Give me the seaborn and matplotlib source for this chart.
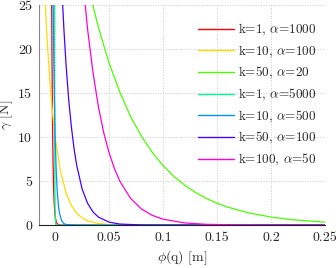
import numpy as np
import pandas as pd
import matplotlib
matplotlib.use("Agg")
import matplotlib.pyplot as plt
import matplotlib.colors as mcolors
import seaborn as sns

# parameter pairs shown in the legend
k_vals = [1, 10, 50, 1, 10, 50, 100]
alpha_vals = [1000, 100, 20, 5000, 500, 100, 50]

# curves: phi [m] and gamma [N]
phi_red = [-0.0035, -0.003, -0.0025, -0.002, -0.0015, -0.001, -0.0005, 0.0, 0.001, 0.002, 0.004, 0.01, 0.25]
gam_red = [33.1, 20.1, 12.2, 7.39, 4.48, 2.72, 1.65, 1.0, 0.37, 0.14, 0.02, 0.0, 0.0]

phi_yel = [-0.01, -0.0075, -0.005, -0.0025, 0.0, 0.005, 0.01, 0.015, 0.02, 0.025, 0.03, 0.04, 0.05, 0.06, 0.08, 0.1, 0.25]
gam_yel = [27.2, 21.2, 16.5, 12.8, 10.0, 6.07, 3.68, 2.23, 1.35, 0.82, 0.50, 0.18, 0.07, 0.025, 0.003, 0.0, 0.0]

phi_grn = [0.03, 0.04, 0.05, 0.06, 0.07, 0.08, 0.09, 0.1, 0.11, 0.12, 0.13, 0.14, 0.15, 0.16, 0.18, 0.2, 0.22, 0.25]
gam_grn = [27.4, 22.5, 18.4, 15.1, 12.3, 10.1, 8.26, 6.77, 5.54, 4.54, 3.71, 3.04, 2.49, 2.04, 1.37, 0.92, 0.61, 0.34]

phi_teal = [-0.0007, -0.0006, -0.0005, -0.0004, -0.0003, -0.0002, 0.0, 0.0005, 0.002, 0.25]
gam_teal = [33.1, 20.1, 12.2, 7.39, 4.48, 2.72, 1.0, 0.08, 0.0, 0.0]

phi_blu = [-0.002, -0.0015, -0.001, -0.0005, 0.0, 0.001, 0.002, 0.003, 0.004, 0.006, 0.008, 0.01, 0.02, 0.25]
gam_blu = [27.2, 21.2, 16.5, 12.8, 10.0, 6.07, 3.68, 2.23, 1.35, 0.50, 0.18, 0.07, 0.0, 0.0]

phi_dkb = [0.006, 0.008, 0.01, 0.0125, 0.015, 0.0175, 0.02, 0.025, 0.03, 0.035, 0.04, 0.05, 0.06, 0.08, 0.1, 0.25]
gam_dkb = [27.4, 22.5, 18.4, 14.3, 11.2, 8.69, 6.77, 4.10, 2.49, 1.51, 0.92, 0.34, 0.12, 0.017, 0.002, 0.0]

phi_mag = [0.025, 0.03, 0.035, 0.04, 0.045, 0.05, 0.055, 0.06, 0.07, 0.08, 0.09, 0.1, 0.12, 0.14, 0.17, 0.2, 0.25]
gam_mag = [28.7, 22.3, 17.4, 13.5, 10.5, 8.21, 6.39, 4.98, 3.02, 1.83, 1.11, 0.67, 0.25, 0.09, 0.02, 0.005, 0.0]

phis = [phi_red, phi_yel, phi_grn, phi_teal, phi_blu, phi_dkb, phi_mag]
gams = [gam_red, gam_yel, gam_grn, gam_teal, gam_blu, gam_dkb, gam_mag]

xticks = [0, 0.05, 0.1, 0.15, 0.2, 0.25]
xtick_labels = ["0", "0.05", "0.1", "0.15", "0.2", "0.25"]
yticks = [0, 5, 10, 15, 20, 25]
ytick_labels = ["0", "5", "10", "15", "20", "25"]

labels = ["k=%d, $\\alpha$=%d" % (k, a) for k, a in zip(k_vals, alpha_vals)]

rows = []
for lab, xs, ys in zip(labels, phis, gams):
    for x, y in zip(xs, ys):
        rows.append({"phi": x, "gamma": y, "curve": lab})
df = pd.DataFrame(rows)

# hsv(7) colours
colors = [mcolors.hsv_to_rgb((i / 7, 1, 1)) for i in range(7)]

sns.set_style("white")
plt.rcParams["mathtext.fontset"] = "cm"
plt.rcParams["font.family"] = ["cmr10", "DejaVu Serif"]
plt.rcParams["axes.unicode_minus"] = False
plt.rcParams["axes.formatter.use_mathtext"] = True

fig = plt.figure(figsize=(3.36, 2.68), dpi=100)
ax = fig.add_axes([0.116, 0.16, 0.851, 0.821])

sns.lineplot(data=df, x="phi", y="gamma", hue="curve", hue_order=labels,
             palette=colors, estimator=None, sort=False, linewidth=0.9, ax=ax)

ax.set_xlim(-0.015, 0.25)
ax.set_ylim(0, 25)
ax.set_xticks(xticks, labels=xtick_labels)
ax.set_yticks(yticks, labels=ytick_labels)
ax.tick_params(direction="in", length=0, labelsize=10, pad=5)
ax.grid(True, linestyle=":", color="#c8c8c8", linewidth=0.7)
ax.spines["top"].set_visible(False)
ax.spines["right"].set_visible(False)
ax.spines["left"].set_color("#888888")
ax.spines["bottom"].set_color("#222222")
ax.spines["left"].set_linewidth(0.8)
ax.spines["bottom"].set_linewidth(0.8)

ax.set_xlabel(r"$\phi$(q) [m]", fontsize=10, labelpad=3)
ax.set_ylabel(r"$\gamma$ [N]", fontsize=10, labelpad=2)

leg = ax.legend(loc="upper right", frameon=False, fontsize=9.5, handlelength=2.7,
                handletextpad=0.3, labelspacing=0.42, borderaxespad=0, borderpad=0,
                bbox_to_anchor=(0.97, 0.925))
for line in leg.get_lines():
    line.set_linewidth(1.0)

fig.savefig("out.png", dpi=100)
